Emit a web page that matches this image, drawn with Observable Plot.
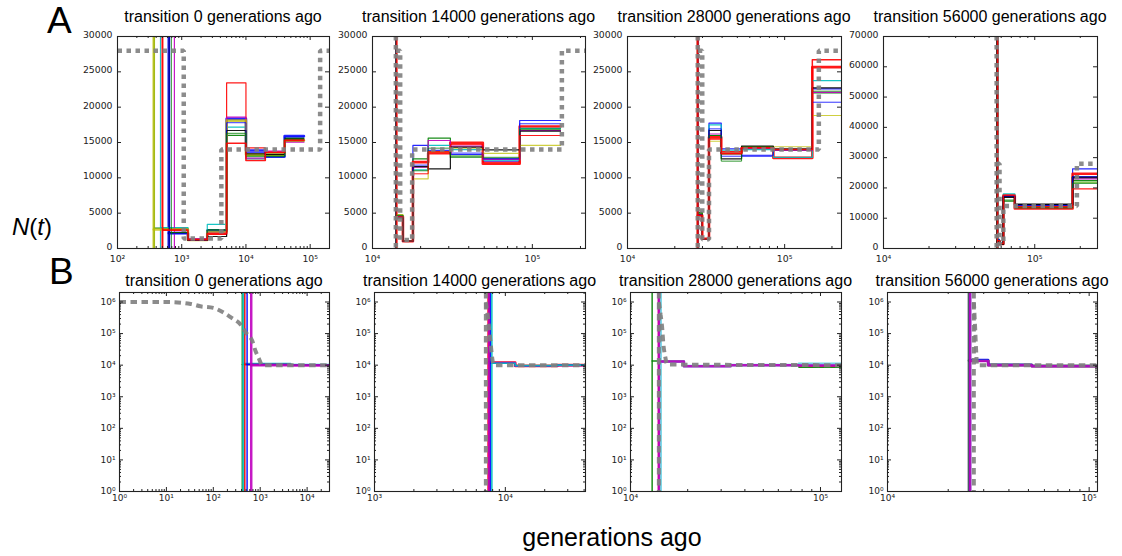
<!DOCTYPE html>
<html><head><meta charset="utf-8">
<script src="https://cdn.jsdelivr.net/npm/d3@7"></script>
<script src="https://cdn.jsdelivr.net/npm/@observablehq/plot@0.6"></script>
<style>
html,body{margin:0;padding:0;background:#fff;}
#fig{position:relative;width:1122px;height:556px;overflow:hidden;background:#fff;}
#fig svg{position:absolute;}
</style></head><body><div id="fig"></div>
<script>
// ---------------- data ----------------
const titles = ["transition 0 generations ago","transition 14000 generations ago","transition 28000 generations ago","transition 56000 generations ago"];

// Row A: linear N(t), log x
const a1XDomain = [100, 2e5];
const a2XDomain = [1e4, 2.15e5];
const a3XDomain = [1e4, 2.3e5];
const a4XDomain = [1e4, 2.6e5];
const aYDomain = [0, 30000];
const a4YDomain = [0, 70000];
const aYTicks = [0, 5000, 10000, 15000, 20000, 25000, 30000];
const a4YTicks = [0, 10000, 20000, 30000, 40000, 50000, 60000, 70000];

// A1 (segment ends shared, start times per run)
const a1Ends = [1250, 2500, 5000, 10000, 20000, 40000, 80000];
const a1Starts = [628, 372, 495, 467, 769, 367, 640, 650, 690, 505];
const a1Levels = [
  [2170, 1230, 2500, 18350, 13870, 13020, 15900],
  [2880, 1150, 2690, 16000, 13160, 13160, 15620],
  [2700, 1200, 1980, 23440, 14230, 13630, 15380],
  [2950, 1250, 3400, 17170, 12690, 13400, 15200],
  [2300, 1400, 2200, 18580, 12780, 13770, 15040],
  [2690, 1200, 2400, 18100, 13300, 13300, 15300],
  [2200, 1130, 1700, 16700, 13400, 13300, 15500],
  [2100, 1200, 2600, 17800, 13600, 12900, 15800],
  [2250, 1250, 2600, 16300, 13000, 13000, 15500],
  [2600, 1250, 2100, 14900, 12450, 13600, 15300]
];
const a1Truth = [[100, 28000], [1075, 1400], [4140, 14000], [143000, 28000], [200000, 28000]];

// A2
const a2Ends = [15500, 17900, 22300, 30700, 49000, 83300, 150000];
const a2Starts = [14050, 14080, 14100, 14060, 14070, 14090, 14040, 14050, 14060, 14100];
const a2Levels = [
  [4500, 1050, 14580, 13770, 13300, 12350, 18110],
  [4700, 1050, 12690, 15610, 12920, 12700, 16940],
  [4500, 1030, 12220, 13490, 14960, 11990, 17260],
  [4600, 1050, 11130, 14580, 14000, 12500, 17000],
  [4600, 1050, 11500, 15280, 14500, 12600, 16700],
  [4800, 1100, 9860, 13700, 14200, 13470, 14580],
  [4290, 1050, 11600, 11270, 14340, 13970, 16600],
  [4500, 1050, 11800, 13900, 13500, 12700, 17650],
  [4700, 1050, 11000, 14200, 13100, 12900, 16900],
  [4500, 1050, 10570, 13700, 14700, 12200, 15990]
];
const a2TruthT = 14000;
const a2Truth = [[14000, 28000], [14900, 1200], [17700, 14000], [153000, 28000], [215000, 28000]];

// A3
const a3Ends = [29900, 33000, 39500, 53200, 84700, 150000, 230000];
const a3Starts = [27950, 27900, 28000, 27950, 28050, 27950, 27900, 28000, 27950, 28000];
const a3Levels = [
  [4900, 1370, 17740, 14110, 13060, 13900, 22600],
  [5100, 1370, 15990, 13400, 14300, 14000, 22030],
  [4670, 1370, 15750, 13630, 14200, 12830, 25660],
  [4800, 1370, 17500, 13900, 14000, 12900, 23770],
  [4700, 1370, 16200, 13500, 14200, 13900, 22100],
  [4900, 1370, 15180, 13500, 14400, 14400, 18820],
  [4800, 1370, 16700, 12690, 14480, 14110, 22740],
  [4800, 1370, 16930, 13060, 13200, 14000, 20700],
  [5000, 1370, 16000, 12360, 14350, 14000, 22260],
  [4700, 1370, 15500, 13400, 14250, 14000, 26700]
];
const a3TruthT = 28000;
const a3Truth = [[28000, 28000], [29900, 1300], [33000, 14000], [165000, 28000], [230000, 28000]];

// A4
const a4Ends = [58500, 62000, 73800, 178000, 260000];
const a4Starts = [56600, 56500, 56600, 56700, 56600, 56500, 56600, 56600, 56550, 56650];
const a4Levels = [
  [3000, 1700, 17500, 14500, 26300],
  [2800, 1600, 15620, 13500, 22450],
  [2500, 1500, 17500, 13210, 24660],
  [2800, 1700, 18060, 13800, 21900],
  [2600, 1600, 17200, 14000, 23000],
  [2700, 1700, 17000, 13900, 21890],
  [2300, 1500, 17000, 14530, 23550],
  [2900, 1700, 17300, 14200, 23700],
  [2700, 1600, 16000, 13400, 21500],
  [2600, 1600, 17600, 13800, 19710]
];
const a4TruthT = 56000;
const a4Truth = [[56000, 28000], [58500, 1500], [62000, 14000], [190000, 28000], [260000, 28000]];

// Row B: log N(t), log x
const bYDomain = [1, 2e6];
const bYTicks = [1, 10, 100, 1000, 10000, 100000, 1000000];
const b1XDomain = [1, 3e4];
const b2XDomain = [1e3, 4.1e4];
const b3XDomain = [1e4, 1.29e5];
const b4XDomain = [1e4, 1.1e5];

const b1Ends = [4400, 30000];
const b1Starts = [413, 440, 470, 525, 643];
const b1Levels = [[10500, 10000], [11000, 10200], [10500, 10000], [10500, 10000], [10000, 9800]];
const b1Truth = [[1, 1e6], [10, 1e6], [33, 8.7e5], [53, 7.3e5], [100, 6.5e5], [167, 4.6e5], [251, 3.1e5], [380, 1.95e5], [500, 1.05e5], [676, 5.9e4], [794, 2.8e4], [933, 1.65e4], [1100, 1e4], [30000, 1e4]];

const b2Ends = [11900, 25000, 41000];
const b2Starts = [7450, 7500, 7700, 7890];
const b2Levels = [[12000, 9500, 10000], [11800, 9400, 9900], [11500, 9600, 10000], [11500, 9700, 10000]];
const b2TruthT = 7100;
const b2Truth = [[7100, 1e6], [7200, 6.3e5], [7350, 3.5e5], [7500, 1.6e5], [7650, 7e4], [7800, 3.2e4], [7950, 1.6e4], [8150, 1e4], [41000, 1e4]];

const b3Ends = [19100, 33600, 77000, 129000];
const b3Starts = [13000, 14050, 14200, 14400, 14100];
const b3Levels = [[13500, 9300, 10000, 8600], [13000, 9400, 10000, 9500], [12800, 9300, 10000, 10000], [13000, 9300, 10000, 11000], [13000, 9300, 10000, 9800]];
const b3TruthT = 14100;
const b3Truth = [[14100, 1e6], [14400, 4e5], [14680, 1.5e5], [14900, 4.5e4], [15200, 2e4], [15600, 1.05e4], [129000, 1e4]];

const b4Ends = [31600, 52000, 110000];
const b4Starts = [25400, 25600, 25800, 25700];
const b4Levels = [[14000, 10200, 9400], [15000, 10500, 9500], [14000, 10200, 9400], [13500, 10000, 9300]];
const b4TruthT = 26800;
const b4Truth = [[26800, 1e6], [27000, 4e5], [27200, 1.5e5], [27400, 5e4], [27550, 2.4e4], [27800, 1e4], [110000, 1e4]];

// ---------------- styles ----------------
const C = {b: "#0000ff", g: "#008000", r: "#ff0000", c: "#00bfbf", m: "#bf00bf", y: "#bfbf00", k: "#000000"};
const topColors = [C.b, C.g, C.r, C.c, C.m, C.y, C.k, C.b, C.g, C.r];
const a1W = [2.6, 1.2, 1.2, 1.2, 1.2, 2.6, 1.2, 1, 1, 1.6];
const a2W = [1.2, 1.2, 2.6, 1.2, 1.2, 1.2, 1.2, 1, 1, 1];
const a3W = [1.2, 1.2, 2.6, 1.2, 1.2, 1.2, 1.2, 1, 1, 1.5];
const a4W = [1.2, 1.2, 2.6, 1.2, 1.2, 1.2, 2, 1, 1, 1.2];
const topOp = [0.85, 0.9, 0.9, 0.9, 0.9, 0.75, 0.9, 0.8, 0.8, 0.9];

const b1Colors = [C.g, C.c, C.r, C.b, C.m];
const b1W = [1.3, 2.4, 1.5, 1.5, 2.5];
const b2Colors = [C.r, C.m, C.b, C.c];
const b2W = [2.6, 2.2, 1.2, 1.6];
const b3Colors = [C.g, C.r, C.b, "#5fcfe0", C.m];
const b3W = [1.5, 1.5, 1.2, 2.6, 2.5];
const b4Colors = ["#2f4f4f", C.b, C.c, C.m];
const b4W = [3, 1.5, 1.5, 2.5];

// ---------------- helpers ----------------
const SUPS = {"0":"\u2070","1":"\u00b9","2":"\u00b2","3":"\u00b3","4":"\u2074","5":"\u2075","6":"\u2076","7":"\u2077","8":"\u2078","9":"\u2079"};
const pow10Label = d => "10" + String(Math.round(Math.log10(d))).split("").map(c => SUPS[c]).join("");
const intFmt = d3.format("d");

function makeSeries(starts, ends, levels, colors, widths, ops) {
  return starts.map((st, i) => {
    const lv = levels[i];
    const pts = [[st, lv[0]]];
    for (let j = 1; j < lv.length; j++) pts.push([ends[j - 1], lv[j]]);
    pts.push([ends[ends.length - 1], lv[lv.length - 1]]);
    return {start: st, pts, color: colors[i], w: widths[i], op: ops ? ops[i] : 0.9};
  });
}

function logTicks(domain) {
  const maj = [], min = [];
  for (let e = Math.floor(Math.log10(domain[0])); e <= Math.ceil(Math.log10(domain[1])); e++) {
    for (let m = 1; m < 10; m++) {
      const v = m * Math.pow(10, e);
      if (v >= domain[0] * 0.9999 && v <= domain[1] * 1.0001) (m === 1 ? maj : min).push(v);
    }
  }
  return {maj, min};
}

function panel(cfg) {
  const {L, T, W, H, xDomain, yType, yDomain, yTicks, series, truth, truthT, truthCurve, fs, dash, dashW, xPad, yPad, yDy} = cfg;
  const mL = 48, mR = 10, mT = 6, mB = 24;
  const xt = logTicks(xDomain);
  let yMaj = yTicks, yMin = [];
  if (yType === "log") { const yt = logTicks(yDomain); yMaj = yt.maj; yMin = yt.min; }
  const gray = "#7f7f7f";
  const tc = "#222";
  const marks = [];
  for (const s of series) {
    marks.push(Plot.ruleX([s.start], {x: d => d, stroke: s.color, strokeWidth: s.w, strokeOpacity: s.op}));
    marks.push(Plot.line(s.pts, {x: d => d[0], y: d => d[1], curve: "step-after", stroke: s.color, strokeWidth: s.w, strokeOpacity: s.op, clip: true}));
  }
  if (truthT != null) marks.push(Plot.ruleX([truthT], {x: d => d, stroke: gray, strokeWidth: dashW, strokeDasharray: dash, strokeLinecap: "butt", strokeOpacity: 0.9}));
  marks.push(Plot.line(truth, {x: d => d[0], y: d => d[1], curve: truthCurve, stroke: gray, strokeWidth: dashW, strokeDasharray: dash, strokeLinecap: "butt", strokeLinejoin: "miter", strokeOpacity: 0.9, clip: true}));
  marks.push(Plot.frame({stroke: tc, strokeWidth: 1.1}));
  // inward ticks on all four sides
  marks.push(Plot.ruleX(xt.maj, {x: d => d, insetTop: H - 4, stroke: tc}));
  marks.push(Plot.ruleX(xt.maj, {x: d => d, insetBottom: H - 4, stroke: tc}));
  marks.push(Plot.ruleX(xt.min, {x: d => d, insetTop: H - 2, stroke: tc}));
  marks.push(Plot.ruleX(xt.min, {x: d => d, insetBottom: H - 2, stroke: tc}));
  marks.push(Plot.ruleY(yMaj, {y: d => d, insetRight: W - 4, stroke: tc}));
  marks.push(Plot.ruleY(yMaj, {y: d => d, insetLeft: W - 4, stroke: tc}));
  if (yMin.length) {
    marks.push(Plot.ruleY(yMin, {y: d => d, insetRight: W - 2, stroke: tc}));
    marks.push(Plot.ruleY(yMin, {y: d => d, insetLeft: W - 2, stroke: tc}));
  }
  marks.push(Plot.axisX({ticks: xt.maj, tickFormat: pow10Label, tickSize: 0, tickPadding: xPad, fontSize: fs, fontFamily: "DejaVu Sans"}));
  marks.push(Plot.axisY({ticks: yMaj, tickFormat: yType === "log" ? pow10Label : intFmt, tickSize: 0, tickPadding: yPad, dy: yDy || 0, fontSize: fs, fontFamily: "DejaVu Sans"}));
  const svg = Plot.plot({
    width: W + mL + mR, height: H + mT + mB,
    marginLeft: mL, marginRight: mR, marginTop: mT, marginBottom: mB,
    x: {type: "log", domain: xDomain, axis: null},
    y: {type: yType, domain: yDomain, axis: null},
    style: {background: "transparent", overflow: "visible", fontFamily: "DejaVu Sans", color: "#222"},
    marks
  });
  svg.style.position = "absolute";
  svg.style.left = (L - mL) + "px";
  svg.style.top = (T - mT) + "px";
  return svg;
}

// ---------------- layout ----------------
const fig = document.getElementById("fig");
const topRow = [{L: 117, W: 212}, {L: 372, W: 213}, {L: 627, W: 214}, {L: 883, W: 214}];
const botRow = [{L: 119, W: 210}, {L: 374, W: 211}, {L: 630, W: 211}, {L: 887, W: 210}];
const TA = 36, HA = 212, TB = 292, HB = 199;
const dashA = "4.5,4.5", dashB = "6.5,4.5";

const topCfg = [
  {xDomain: a1XDomain, yDomain: aYDomain, yTicks: aYTicks, series: makeSeries(a1Starts, a1Ends, a1Levels, topColors, a1W, topOp), truth: a1Truth, truthT: null},
  {xDomain: a2XDomain, yDomain: aYDomain, yTicks: aYTicks, series: makeSeries(a2Starts, a2Ends, a2Levels, topColors, a2W, topOp), truth: a2Truth, truthT: a2TruthT},
  {xDomain: a3XDomain, yDomain: aYDomain, yTicks: aYTicks, series: makeSeries(a3Starts, a3Ends, a3Levels, topColors, a3W, topOp), truth: a3Truth, truthT: a3TruthT},
  {xDomain: a4XDomain, yDomain: a4YDomain, yTicks: a4YTicks, series: makeSeries(a4Starts, a4Ends, a4Levels, topColors, a4W, topOp), truth: a4Truth, truthT: a4TruthT}
];
topCfg.forEach((c, i) => fig.appendChild(panel({...c, L: topRow[i].L, W: topRow[i].W, T: TA, H: HA, yType: "linear", truthCurve: "step-after", fs: 9.3, dash: dashA, dashW: 4.5, xPad: 6.5, yPad: 5, yDy: -1.5})));

const botCfg = [
  {xDomain: b1XDomain, series: makeSeries(b1Starts, b1Ends, b1Levels, b1Colors, b1W), truth: b1Truth, truthT: null},
  {xDomain: b2XDomain, series: makeSeries(b2Starts, b2Ends, b2Levels, b2Colors, b2W), truth: b2Truth, truthT: b2TruthT},
  {xDomain: b3XDomain, series: makeSeries(b3Starts, b3Ends, b3Levels, b3Colors, b3W), truth: b3Truth, truthT: b3TruthT},
  {xDomain: b4XDomain, series: makeSeries(b4Starts, b4Ends, b4Levels, b4Colors, b4W), truth: b4Truth, truthT: b4TruthT}
];
botCfg.forEach((c, i) => fig.appendChild(panel({...c, L: botRow[i].L, W: botRow[i].W, T: TB, H: HB, yType: "log", yDomain: bYDomain, yTicks: bYTicks, truthCurve: "monotone-x", fs: 9, dash: dashB, dashW: 4, xPad: 3, yPad: 4})));

// ---------------- text overlay ----------------
const ns = "http://www.w3.org/2000/svg";
const ov = document.createElementNS(ns, "svg");
ov.setAttribute("width", 1122); ov.setAttribute("height", 556);
ov.style.left = "0px"; ov.style.top = "0px"; ov.style.pointerEvents = "none";
fig.appendChild(ov);
function addText(str, x, y, size, anchor) {
  const t = document.createElementNS(ns, "text");
  t.setAttribute("x", x); t.setAttribute("y", y);
  t.setAttribute("font-family", "Liberation Sans, Arial, sans-serif");
  t.setAttribute("font-size", size);
  t.setAttribute("text-anchor", anchor || "start");
  t.setAttribute("fill", "#000");
  t.textContent = str;
  ov.appendChild(t);
  return t;
}
titles.forEach((s, i) => {
  addText(s, topRow[i].L + topRow[i].W / 2, 22, 16, "middle");
  addText(s, botRow[i].L + botRow[i].W / 2, 285.5, 16, "middle");
});
addText("A", 47, 33, 37);
addText("B", 49, 284, 37);
addText("generations ago", 612, 546, 25, "middle");
const nt = document.createElementNS(ns, "text");
nt.setAttribute("x", 12); nt.setAttribute("y", 235);
nt.setAttribute("font-family", "Liberation Sans, Arial, sans-serif");
nt.setAttribute("font-size", 24);
const parts = [["N", true], ["(", false], ["t", true], [")", false]];
for (const [s, it] of parts) {
  const sp = document.createElementNS(ns, "tspan");
  if (it) sp.setAttribute("font-style", "italic");
  sp.textContent = s;
  nt.appendChild(sp);
}
ov.appendChild(nt);
</script></body></html>
